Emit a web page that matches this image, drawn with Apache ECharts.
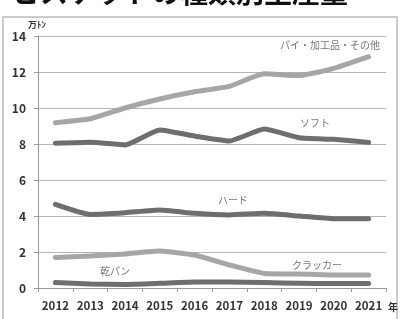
<!DOCTYPE html>
<html>
<head>
<meta charset="utf-8">
<script src="https://cdn.jsdelivr.net/npm/echarts@6/dist/echarts.min.js"></script>
<style>
  html, body { margin: 0; padding: 0; background: #fff; }
  #chart { width: 401px; height: 319px; }
</style>
</head>
<body>
<div id="chart"></div>
<script>
const years = ['2012', '2013', '2014', '2015', '2016', '2017', '2018', '2019', '2020', '2021'];
const yTicks = [0, 2, 4, 6, 8, 10, 12, 14];

// 万トン
const pie = [9.18, 9.4, 10.0, 10.5, 10.9, 11.2, 11.9, 11.8, 12.2, 12.85];
const soft = [8.04, 8.1, 7.95, 8.78, 8.44, 8.17, 8.83, 8.35, 8.26, 8.09];
const hard = [4.65, 4.09, 4.18, 4.33, 4.15, 4.06, 4.15, 4.0, 3.85, 3.85];
const cracker = [1.7, 1.78, 1.89, 2.05, 1.83, 1.28, 0.81, 0.78, 0.72, 0.72];
const kanpan = [0.3, 0.22, 0.2, 0.26, 0.33, 0.33, 0.3, 0.26, 0.25, 0.25];

const light = '#a6a6a6';
const dark = '#6e6e6e';
const font = '"Noto Sans CJK JP", "Noto Sans", sans-serif';

const chart = echarts.init(document.getElementById('chart'));

function line(name, data, color) {
  return {
    name,
    type: 'line',
    data,
    symbol: 'none',
    smooth: 0.15,
    lineStyle: { width: 5, color, cap: 'round', join: 'round' },
    z: 3
  };
}

function note(text, x, y) {
  return {
    type: 'text',
    left: x,
    top: y,
    style: { text, fill: '#777', font: '10px ' + font }
  };
}

chart.setOption({
  animation: false,
  backgroundColor: '#fff',
  grid: { left: 38, right: 15, top: 36, bottom: 31 },
  xAxis: {
    type: 'category',
    data: years,
    boundaryGap: true,
    axisLine: { lineStyle: { color: '#999', width: 1 } },
    axisTick: { show: true, length: 4, lineStyle: { color: '#999' } },
    axisLabel: { interval: 0, color: '#333', fontSize: 11.5, fontWeight: 'bold', fontFamily: font, margin: 12 }
  },
  yAxis: {
    type: 'value',
    min: yTicks[0],
    max: yTicks[yTicks.length - 1],
    interval: 2,
    axisLine: { show: true, lineStyle: { color: '#999', width: 1 } },
    axisTick: { show: true, length: 4, lineStyle: { color: '#999' } },
    splitLine: { lineStyle: { color: '#b4b4b4', width: 1 } },
    axisLabel: { color: '#333', fontSize: 12, fontWeight: 'bold', fontFamily: font, margin: 12 }
  },
  series: [
    line('パイ・加工品・その他', pie, light),
    line('ソフト', soft, dark),
    line('ハード', hard, dark),
    line('クラッカー', cracker, light),
    line('乾パン', kanpan, dark)
  ],
  graphic: [
    {
      type: 'rect',
      shape: { x: 3, y: 17, width: 394, height: 320 },
      style: { fill: 'none', stroke: '#bbb', lineWidth: 1.5 },
      z: -1
    },
    {
      type: 'text',
      left: 12,
      top: -22,
      style: { text: 'ビスケットの種類別生産量', fill: '#111', font: 'bold 28px ' + font }
    },
    {
      type: 'text',
      left: 28,
      top: 20,
      style: { text: '万ﾄﾝ', fill: '#333', font: 'bold 9px ' + font }
    },
    {
      type: 'text',
      left: 388,
      top: 302,
      style: { text: '年', fill: '#333', font: 'bold 10px ' + font }
    },
    note('パイ・加工品・その他', 280, 40),
    note('ソフト', 300, 118),
    note('ハード', 218, 195),
    note('クラッカー', 292, 260),
    note('乾パン', 100, 266)
  ]
});
</script>
</body>
</html>
